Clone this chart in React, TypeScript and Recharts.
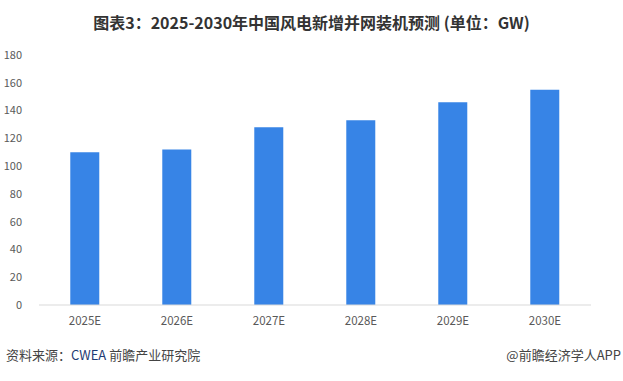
import React from "react";
import { BarChart, Bar, XAxis, YAxis } from "recharts";

const categories = ["2025E", "2026E", "2027E", "2028E", "2029E", "2030E"];
const values = [110, 112, 128, 133, 146, 155];
const yTicks = [0, 20, 40, 60, 80, 100, 120, 140, 160, 180];

const data = categories.map((c, i) => ({ name: c, value: values[i] }));

const FONT = '"Noto Sans CJK SC", "Noto Sans", sans-serif';

export default function App() {
  return (
    <div style={{ position: "absolute", left: 0, top: 0, width: 623, height: 381, background: "#fff", fontFamily: FONT }}>
      <div
        style={{
          position: "absolute",
          left: 0,
          top: 10,
          width: 623,
          textAlign: "center",
          fontSize: 16,
          fontWeight: 700,
          color: "#333",
          lineHeight: "24px",
        }}
      >
        图表3：2025-2030年中国风电新增并网装机预测 (单位：GW)
      </div>
      <BarChart
        width={623}
        height={381}
        data={data}
        margin={{ top: 55, right: 32, left: 0, bottom: 46 }}
        barCategoryGap="34%"
      >
        <XAxis
          dataKey="name"
          height={30}
          tickLine={false}
          axisLine={{ stroke: "#d9d9d9" }}
          tick={{ fill: "#595959", fontSize: 11.5, fontFamily: FONT }}
          tickMargin={6}
        />
        <YAxis
          width={39}
          domain={[0, 180]}
          ticks={yTicks}
          interval={0}
          tickLine={false}
          axisLine={false}
          tick={{ fill: "#595959", fontSize: 11, fontFamily: FONT }}
          tickMargin={11}
        />
        <Bar dataKey="value" fill="#3784E6" isAnimationActive={false} />
      </BarChart>
      <div
        style={{
          position: "absolute",
          left: 6,
          top: 345,
          fontSize: 13,
          color: "#444",
          lineHeight: "20px",
        }}
      >
        资料来源：<span style={{ color: "#1f3b73" }}>CWEA</span> 前瞻产业研究院
      </div>
      <div
        style={{
          position: "absolute",
          right: 2,
          top: 345,
          fontSize: 13,
          color: "#444",
          lineHeight: "20px",
        }}
      >
        @前瞻经济学人APP
      </div>
    </div>
  );
}
